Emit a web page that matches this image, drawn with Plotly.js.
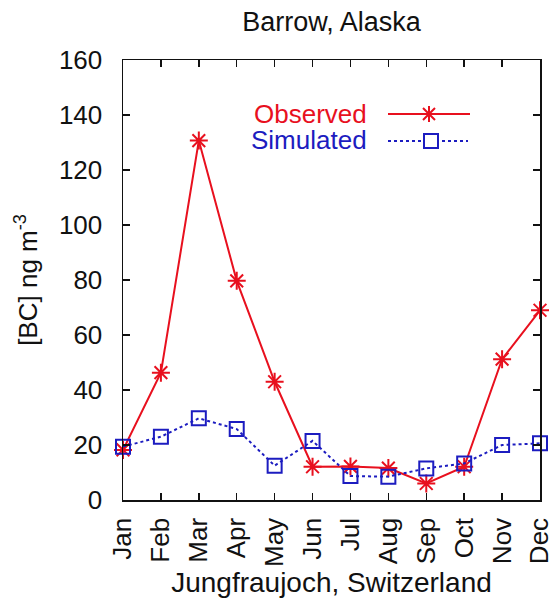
<!DOCTYPE html>
<html>
<head>
<meta charset="utf-8">
<script src="https://cdn.plot.ly/plotly-3.0.1.min.js"></script>
<style>html,body{margin:0;padding:0;background:#fff;}#chart{width:552px;height:604px;}</style>
</head>
<body>
<div id="chart"></div>
<script>
const months = ["Jan","Feb","Mar","Apr","May","Jun","Jul","Aug","Sep","Oct","Nov","Dec"];
const observed = [18.2, 46.3, 130.7, 79.7, 43, 12.1, 12.2, 11.6, 6.0, 12.1, 51.2, 69];
const simulated = [19.4, 23.0, 29.7, 25.8, 12.5, 21.5, 8.7, 8.5, 11.5, 13.3, 20.0, 20.6];
const yTicks = [0, 20, 40, 60, 80, 100, 120, 140, 160];

const RED = "#e8101e", BLUE = "#1c1cc0";
const FONT = "Liberation Sans, Arial, Helvetica, sans-serif";
const idx = months.map((m, i) => i);

// plot area in pixels
const L = 123, R = 12, T = 60, B = 104, W = 552, H = 604;
const pw = W - L - R, ph = H - T - B;
const px = x => (x - L) / pw;
const py = y => (H - B - y) / ph;

const traces = [
  {x: idx, y: observed, type: "scatter", mode: "lines+markers", name: "Observed",
   line: {color: RED, width: 2}, cliponaxis: false,
   marker: {symbol: "asterisk-open", size: 15, color: RED, line: {color: RED, width: 2}}},
  {x: idx, y: simulated, type: "scatter", mode: "lines+markers", name: "Simulated",
   line: {color: BLUE, width: 2, dash: "dot"}, cliponaxis: false,
   marker: {symbol: "square-open", size: 14, color: BLUE, line: {color: BLUE, width: 2}}}
];

const shapes = [
  {type: "line", xref: "paper", yref: "paper", x0: px(388), x1: px(470), y0: py(114), y1: py(114),
   line: {color: RED, width: 2}},
  {type: "path", xref: "paper", yref: "paper", xsizemode: "pixel", ysizemode: "pixel",
   xanchor: px(429), yanchor: py(114),
   path: "M-8,0L8,0M0,-8L0,8M-6,-6L6,6M-6,6L6,-6", line: {color: RED, width: 2}},
  {type: "line", xref: "paper", yref: "paper", x0: px(388), x1: px(468), y0: py(141), y1: py(141),
   line: {color: BLUE, width: 2, dash: "dot"}},
  {type: "rect", xref: "paper", yref: "paper", xsizemode: "pixel", ysizemode: "pixel",
   xanchor: px(431), yanchor: py(141), x0: -7, x1: 7, y0: -7, y1: 7,
   fillcolor: "white", line: {color: BLUE, width: 2}}
];

const annotations = [
  {text: "Observed", xref: "paper", yref: "paper", x: px(369), y: py(114), xanchor: "right", yanchor: "middle",
   showarrow: false, font: {family: FONT, size: 26, color: RED}},
  {text: "Simulated", xref: "paper", yref: "paper", x: px(369), y: py(140), xanchor: "right", yanchor: "middle",
   showarrow: false, font: {family: FONT, size: 26, color: BLUE}}
];

const layout = {
  width: W, height: H,
  margin: {l: L, r: R, t: T, b: B},
  paper_bgcolor: "#fff", plot_bgcolor: "#fff",
  showlegend: false,
  font: {family: FONT, size: 26, color: "#111"},
  title: {text: "Barrow, Alaska", font: {family: FONT, size: 27, color: "#111"},
          x: (L + pw / 2) / W, xanchor: "center", yref: "container", y: 1 - 22 / H, yanchor: "middle"},
  xaxis: {range: [0, 11], tickmode: "array", tickvals: idx, ticktext: months, tickangle: -90,
          showgrid: false, zeroline: false, showline: true, mirror: "ticks", linecolor: "#111", linewidth: 1.5,
          ticks: "inside", ticklen: 7, tickwidth: 1.5, tickcolor: "#111", ticklabelstandoff: 6,
          ticklabeloverflow: "allow",
          tickfont: {family: FONT, size: 26, color: "#111"}, automargin: false,
          title: {text: "Jungfraujoch, Switzerland", font: {family: FONT, size: 28, color: "#111"}, standoff: 4}},
  yaxis: {range: [0, 160], tickmode: "array", tickvals: yTicks,
          showgrid: false, zeroline: false, showline: true, mirror: "ticks", linecolor: "#111", linewidth: 1.5,
          ticks: "inside", ticklen: 7, tickwidth: 1.5, tickcolor: "#111", ticklabelstandoff: 14,
          ticklabeloverflow: "allow",
          tickfont: {family: FONT, size: 26, color: "#111"}, automargin: false,
          title: {text: "[BC] ng m<sup>-3</sup>", font: {family: FONT, size: 26, color: "#111"}, standoff: 14}},
  shapes: shapes,
  annotations: annotations
};

Plotly.newPlot("chart", traces, layout, {displayModeBar: false, staticPlot: true});
</script>
</body>
</html>
